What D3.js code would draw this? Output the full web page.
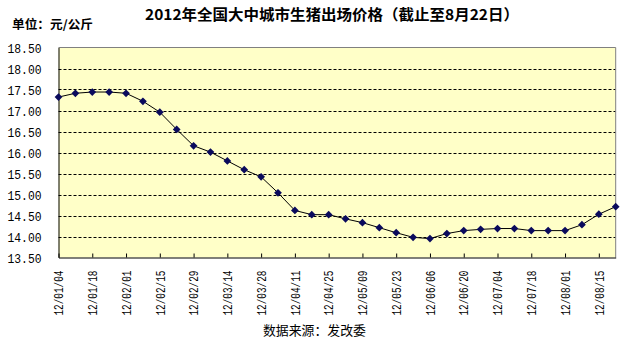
<!DOCTYPE html>
<html><head><meta charset="utf-8">
<script src="https://cdn.jsdelivr.net/npm/d3@7/dist/d3.min.js"></script>
<style>body{margin:0;background:#fff}svg{display:block}</style>
</head><body>
<svg id="c" width="638" height="340"></svg>
<script>
const dates = ["12/01/04","12/01/11","12/01/18","12/01/25","12/02/01","12/02/08","12/02/15","12/02/22","12/02/29","12/03/07","12/03/14","12/03/21","12/03/28","12/04/04","12/04/11","12/04/18","12/04/25","12/05/02","12/05/09","12/05/16","12/05/23","12/05/30","12/06/06","12/06/13","12/06/20","12/06/27","12/07/04","12/07/11","12/07/18","12/07/25","12/08/01","12/08/08","12/08/15","12/08/22"];
const prices = [17.32,17.41,17.44,17.44,17.41,17.22,16.96,16.55,16.16,16.01,15.80,15.59,15.42,15.04,14.62,14.52,14.52,14.42,14.33,14.21,14.09,13.98,13.95,14.07,14.14,14.17,14.19,14.19,14.14,14.14,14.14,14.28,14.53,14.71];
const tickLabels = ["12/01/04","12/01/18","12/02/01","12/02/15","12/02/29","12/03/14","12/03/28","12/04/11","12/04/25","12/05/09","12/05/23","12/06/06","12/06/20","12/07/04","12/07/18","12/08/01","12/08/15"];
const yTicks = [13.5,14,14.5,15,15.5,16,16.5,17,17.5,18,18.5];
const title = "2012年全国大中城市生猪出场价格（截止至8月22日）";
const unit = "单位：元/公斤";
const source = "数据来源：发改委";

const svg = d3.select("#c");
const L = 58.5, R = 615.7, T = 47.5, B = 257.5;
const x = d3.scalePoint().domain(dates).range([L, R]);
const y = d3.scaleLinear().domain([13.5, 18.5]).range([B, T]);
const cjk = "'Noto Sans CJK SC', sans-serif";
const mono = "'Liberation Mono', 'DejaVu Sans Mono', monospace";

svg.append("rect").attr("x", L).attr("y", T).attr("width", R - L).attr("height", B - T).attr("fill", "#FFFFC8");

// gridlines
svg.append("g").selectAll("line").data(yTicks.filter(v => v > 13.5 && v < 18.5)).join("line")
  .attr("x1", L).attr("x2", R).attr("y1", d => Math.round(y(d)) + 0.5).attr("y2", d => Math.round(y(d)) + 0.5)
  .attr("stroke", "#000").attr("stroke-width", 1).attr("stroke-dasharray", "3,2");

// border top/right
svg.append("path").attr("d", `M${L},${T}H${R}V${B}`).attr("fill", "none").attr("stroke", "#808080").attr("stroke-width", 1);

// y axis
const yAxis = d3.axisLeft(y).tickValues(yTicks).tickSize(0).tickPadding(17).tickFormat(d3.format(".2f"));
const gy = svg.append("g").attr("transform", `translate(${L},0)`).call(yAxis);
gy.select(".domain").attr("stroke", "#000");
gy.selectAll("text").attr("font-family", mono).attr("font-size", 12).attr("fill", "#000")
  .attr("textLength", 34).attr("lengthAdjust", "spacingAndGlyphs").attr("dy", "0.45em");

// x axis
const xAxis = d3.axisBottom(x).tickValues(tickLabels).tickSizeInner(-4).tickSizeOuter(0).tickPadding(0);
const gx = svg.append("g").attr("transform", `translate(0,${B})`).call(xAxis);
gx.select(".domain").attr("stroke", "#000");
gx.selectAll(".tick line").attr("stroke", "#000");
gx.selectAll("text").attr("font-family", mono).attr("font-size", 12).attr("fill", "#000")
  .attr("textLength", 45).attr("lengthAdjust", "spacingAndGlyphs")
  .attr("text-anchor", "end").attr("transform", "rotate(-90)")
  .attr("x", -13).attr("y", 0).attr("dy", "0.35em");

// line
svg.append("path").datum(prices).attr("fill", "none").attr("stroke", "#000").attr("stroke-width", 1)
  .attr("d", d3.line().x((d, i) => x(dates[i])).y(d => y(d)));

// markers
svg.append("g").selectAll("path").data(prices).join("path")
  .attr("d", d3.symbol(d3.symbolSquare, 30))
  .attr("transform", (d, i) => `translate(${x(dates[i])},${y(d)}) rotate(45)`)
  .attr("fill", "#0A0A5C");

// texts
svg.append("text").attr("x", 332).attr("y", 20).attr("text-anchor", "middle")
  .attr("font-family", cjk).attr("font-weight", "bold").attr("font-size", 15)
  .attr("textLength", 374).attr("lengthAdjust", "spacingAndGlyphs").text(title);
svg.append("text").attr("x", 12).attr("y", 29)
  .attr("font-family", cjk).attr("font-weight", "bold").attr("font-size", 12)
  .attr("textLength", 81).attr("lengthAdjust", "spacingAndGlyphs").text(unit);
svg.append("text").attr("x", 263).attr("y", 335)
  .attr("font-family", cjk).attr("font-size", 13)
  .attr("textLength", 103).attr("lengthAdjust", "spacingAndGlyphs").text(source);
</script>
</body></html>
